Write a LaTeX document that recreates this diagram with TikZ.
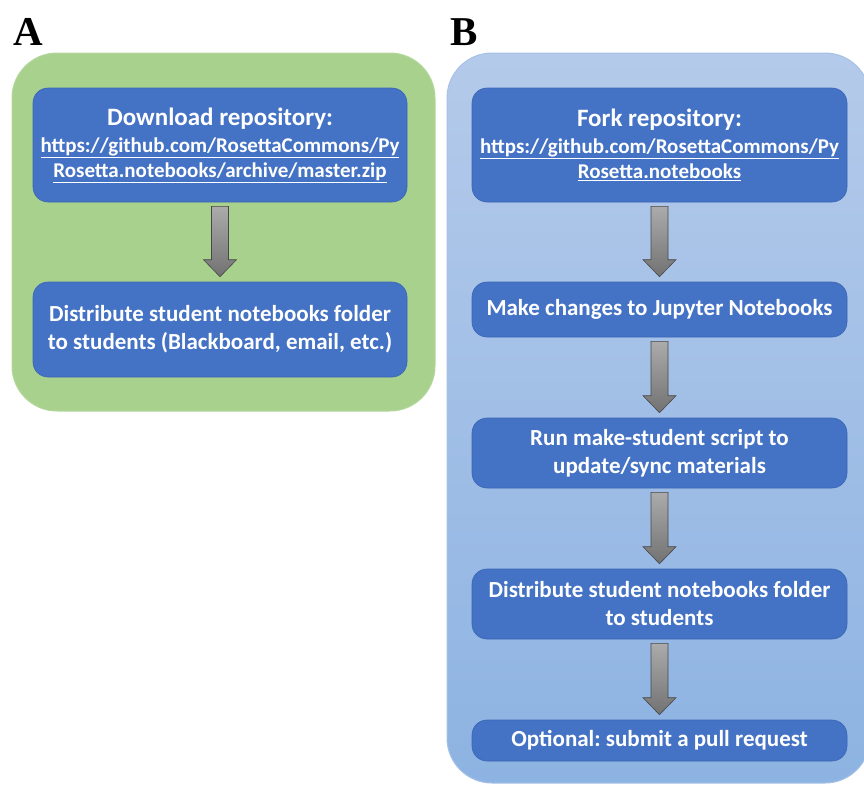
\documentclass[tikz,border=0pt]{standalone}
\usepackage{fontspec}
\setmainfont{Carlito}
\newfontfamily\panelfont{Liberation Serif}
\usetikzlibrary{calc}
\frenchspacing

\definecolor{boxblue}{HTML}{4472C4}
\definecolor{boxedge}{HTML}{3B66B5}
\definecolor{panelgreen}{HTML}{A9D18E}
\definecolor{greenedge}{HTML}{B4D89C}
\definecolor{paneltop}{HTML}{B4CAEA}
\definecolor{panelbottom}{HTML}{8DB3E2}
\definecolor{bluepaneledge}{HTML}{A6C1E6}
\definecolor{arrowtop}{HTML}{ABABAB}
\definecolor{arrowbottom}{HTML}{727272}
\definecolor{arrowedge}{HTML}{484848}

% block arrow from the bottom of one step to the top of the next
\newcommand{\steparrow}[2]{%
  \path[blockarrow] let \p1=($(#1.south)+(0pt,-4pt)$), \p2=($(#2.north)+(0pt,5pt)$) in
    (\x1-8.5pt,\y1) -- (\x1+8.5pt,\y1) -- (\x1+8.5pt,\y2+17pt) -- (\x1+16.5pt,\y2+17pt)
    -- (\x1,\y2) -- (\x1-16.5pt,\y2+17pt) -- (\x1-8.5pt,\y2+17pt) -- cycle;}

\begin{document}
\begin{tikzpicture}[x=1pt, y=-1pt,
    stepbox/.style={rectangle, rounded corners=15pt, fill=boxblue, draw=boxedge, line width=0.6pt,
      text=white, align=center, inner sep=0pt, font=\bfseries\fontsize{23}{28}\selectfont},
    blockarrow/.style={draw=arrowedge, line width=0.6pt, top color=arrowtop, bottom color=arrowbottom},
    panellabel/.style={anchor=base west, inner sep=0pt, font=\panelfont\bfseries\fontsize{41}{41}\selectfont}]
  \useasboundingbox (0,0) rectangle (864,785);

  % panels
  \fill[panelgreen, draw=greenedge, line width=1pt, rounded corners=45pt] (12,53) rectangle (435,411);
  \shade[top color=paneltop, bottom color=panelbottom, draw=bluepaneledge, line width=1pt,
    rounded corners=45pt] (447,53) rectangle (870,783);

  \node[panellabel] (labelA) at (13,45) {A};
  \node[panellabel] (labelB) at (450,45) {B};

  % panel A
  \node[stepbox, minimum width=374pt, minimum height=114pt] (download) at (220,145)
    {{\fontsize{25}{27}\selectfont Download repository:}\\[-1pt]
     {\fontsize{21}{25}\selectfont\underline{https://github.com/RosettaCommons/Py}}\\[-3pt]
     {\fontsize{21}{25}\selectfont\underline{Rosetta.notebooks/archive/master.zip}}};
  \node[stepbox, minimum width=374pt, minimum height=95pt] (distributeA) at (220,329.5)
    {Distribute student notebooks folder\\to students (Blackboard, email, etc.)};

  % panel B
  \node[stepbox, minimum width=375pt, minimum height=114pt] (fork) at (659.5,145)
    {{\fontsize{25}{27}\selectfont Fork repository:}\\[-1pt]
     {\fontsize{21}{25}\selectfont\underline{https://github.com/RosettaCommons/Py}}\\[-3pt]
     {\fontsize{21}{25}\selectfont\underline{Rosetta.notebooks}}};
  \node[stepbox, minimum width=375pt, minimum height=55pt] (changes) at (659.5,309.5)
    {Make changes to Jupyter Notebooks};
  \node[stepbox, minimum width=375pt, minimum height=70pt] (makestudent) at (659.5,453)
    {Run make-student script to\\update/sync materials};
  \node[stepbox, minimum width=375pt, minimum height=70pt] (distributeB) at (659.5,604)
    {Distribute student notebooks folder\\to students};
  \node[stepbox, minimum width=375pt, minimum height=41pt] (pullrequest) at (659.5,740.5)
    {Optional: submit a pull request};

  \steparrow{download}{distributeA}
  \steparrow{fork}{changes}
  \steparrow{changes}{makestudent}
  \steparrow{makestudent}{distributeB}
  \steparrow{distributeB}{pullrequest}
\end{tikzpicture}
\end{document}
